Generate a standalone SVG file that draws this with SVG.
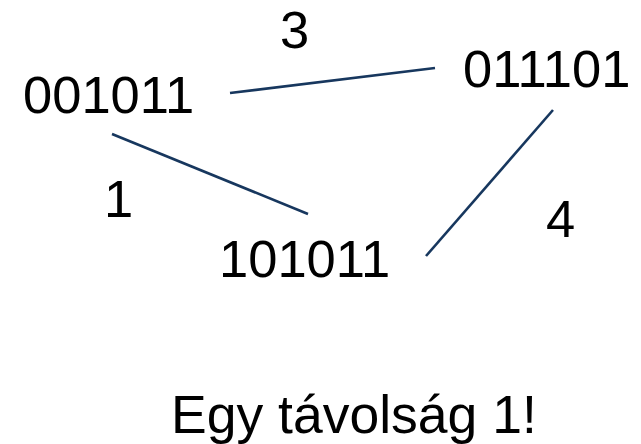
<svg xmlns="http://www.w3.org/2000/svg" width="641" height="444" viewBox="0 0 641 444">
<style>
.t{font-family:"Liberation Sans",Arial,sans-serif;font-size:52.5px;fill:#000}
.c{font-size:53.5px}
.e{stroke:#17375E;stroke-width:2.6;fill:none}
</style>
<rect width="641" height="444" fill="#fff"/>
<g id="connectors">
<line class="e" x1="230" y1="93" x2="435" y2="68"/>
<line class="e" x1="112" y1="134" x2="308" y2="214"/>
<line class="e" x1="426" y1="256" x2="553" y2="110"/>
</g>
<g id="n001011"><text class="t" x="23" y="113">001011</text></g>
<g id="n011101"><text class="t" x="463" y="87">011101</text></g>
<g id="n101011"><text class="t" x="219" y="277">101011</text></g>
<g id="l3"><text class="t" x="280" y="48">3</text></g>
<g id="l1"><text class="t" x="104" y="217">1</text></g>
<g id="l4"><text class="t" x="546" y="237">4</text></g>
<g id="caption"><text class="t c" x="171" y="433">Egy távolság 1!</text></g>
</svg>
